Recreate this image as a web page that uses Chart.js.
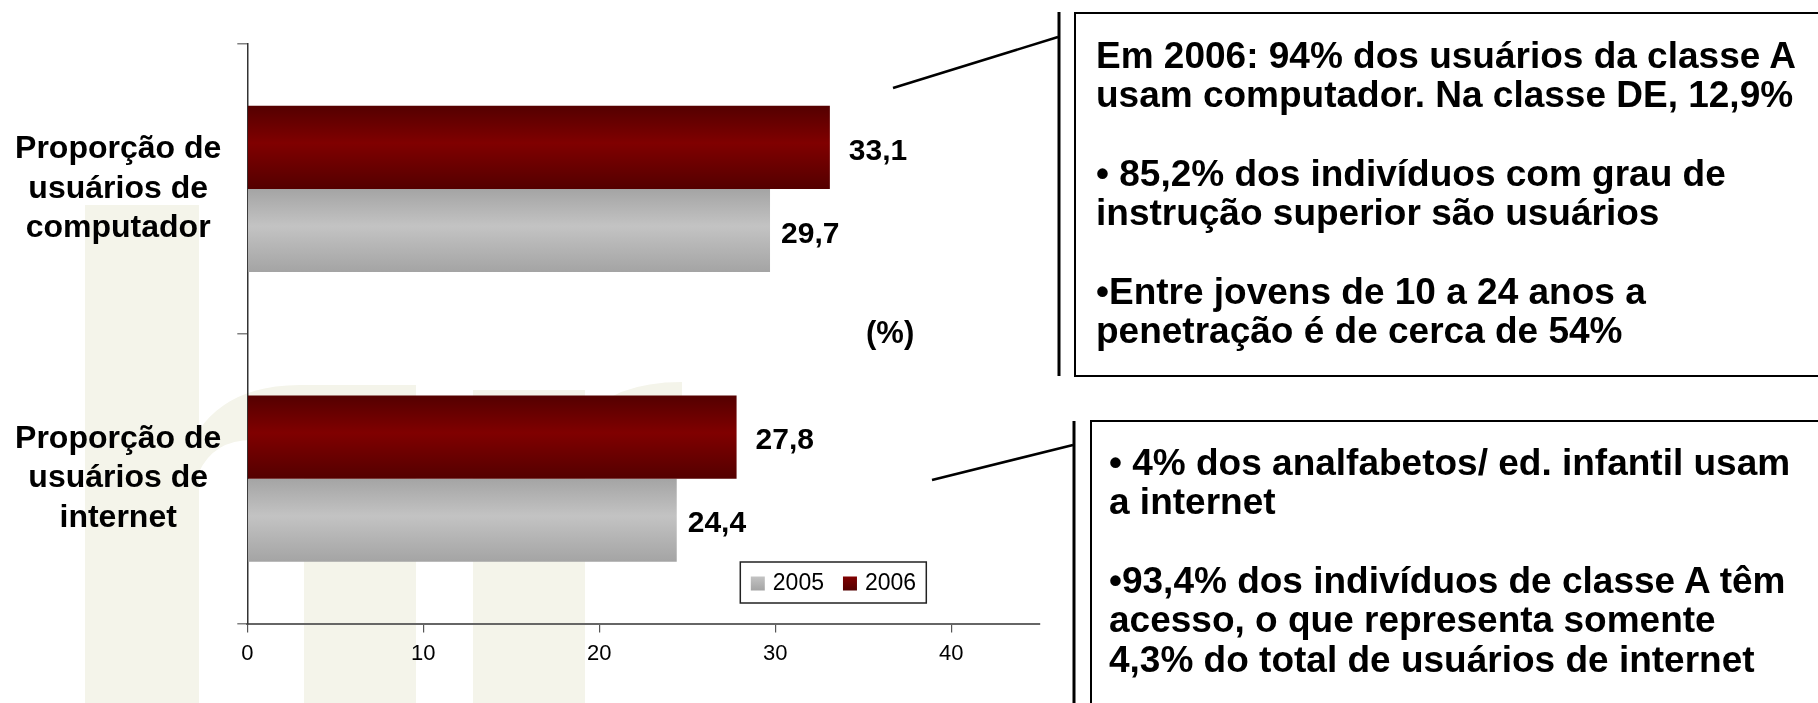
<!DOCTYPE html>
<html lang="pt-BR">
<head>
<meta charset="utf-8">
<title>Usuários de computador e internet</title>
<script src="https://cdn.jsdelivr.net/npm/chart.js@4.4.1/dist/chart.umd.min.js"></script>
<style>
  html, body { margin: 0; padding: 0; background: #fff; }
  body { width: 1818px; height: 703px; position: relative; overflow: hidden;
         font-family: "Liberation Sans", Arial, sans-serif; }
  #mark, #lines { position: absolute; left: 0; top: 0; }
  #wrap { position: absolute; left: 0; top: 0; width: 1060px; height: 703px; }
  #pct { position: absolute; left: 866px; top: 315px; font-weight: bold; font-size: 31px; line-height: 36px; }
  .box { position: absolute; border: 2.5px solid #000; background: #fff; box-sizing: border-box; }
  .box .txt { position: absolute; font-weight: bold; font-size: 37px; line-height: 39.4px; color: #000;
              white-space: nowrap; }
</style>
</head>
<body>

<!-- marca d'agua clara no fundo -->
<svg id="mark" width="1060" height="703">
  <g fill="#f4f4ea">
    <path d="M85,205 H199 V703 H85 Z"/>
    <path d="M199,430 Q230,385 300,385 H416 V703 H304 V475 Q292,440 252,440 Q214,440 199,472 Z"/>
    <path d="M473,390 H585 V703 H473 Z"/>
    <path d="M585,420 Q612,382 682,382 V440 Q622,440 585,472 Z"/>
  </g>
</svg>

<div id="wrap"><canvas id="chart"></canvas></div>
<div id="pct">(%)</div>

<svg id="lines" width="1818" height="703">
  <g stroke="#000" fill="none">
    <line x1="893" y1="88" x2="1058" y2="37" stroke-width="2.5"/>
    <line x1="1059" y1="12" x2="1059" y2="376" stroke-width="3"/>
    <line x1="932" y1="480" x2="1073" y2="445" stroke-width="2.5"/>
    <line x1="1074" y1="421" x2="1074" y2="703" stroke-width="3"/>
  </g>
</svg>

<div class="box" style="left:1074px; top:11.5px; width:800px; height:365.5px;">
  <div class="txt" style="left:20px; top:22px;">Em 2006: 94% dos usuários da classe A<br>usam computador. Na classe DE, 12,9%<br><br>• 85,2% dos indivíduos com grau de<br>instrução superior são usuários<br><br>•Entre jovens de 10 a 24 anos a<br>penetração é de cerca de 54%</div>
</div>
<div class="box" style="left:1089.5px; top:419.5px; width:800px; height:400px;">
  <div class="txt" style="left:17.5px; top:21px;">• 4% dos analfabetos/ ed. infantil usam<br>a internet<br><br>•93,4% dos indivíduos de classe A têm<br>acesso, o que representa somente<br>4,3% do total de usuários de internet</div>
</div>

<script>
// dados
const categories = [
  ['Proporção de', 'usuários de', 'computador'],
  ['Proporção de', 'usuários de', 'internet']
];
const years = ['2006', '2005'];
const values2006 = [33.1, 27.8];
const values2005 = [29.7, 24.4];
const xTicks = [0, 10, 20, 30, 40];

const FONT = '"Liberation Sans", Arial, sans-serif';

// degradê vertical em cada barra (escuro nas bordas, claro no meio)
const barShade = {
  id: 'barShade',
  beforeDatasetsDraw(chart) {
    const ctx = chart.ctx;
    chart.data.datasets.forEach((ds, i) => {
      chart.getDatasetMeta(i).data.forEach(bar => {
        const top = bar.y - bar.height / 2;
        const g = ctx.createLinearGradient(0, top, 0, top + bar.height);
        g.addColorStop(0, ds.shade[0]);
        g.addColorStop(0.45, ds.shade[1]);
        g.addColorStop(1, ds.shade[0]);
        bar.options = Object.assign({}, bar.options, { backgroundColor: g });
      });
    });
  }
};

// valores ao lado das barras, com virgula decimal
const valueLabels = {
  id: 'valueLabels',
  afterDatasetsDraw(chart) {
    const ctx = chart.ctx;
    ctx.save();
    ctx.font = 'bold 30px ' + FONT;
    ctx.fillStyle = '#000';
    ctx.textAlign = 'left';
    ctx.textBaseline = 'middle';
    chart.data.datasets.forEach((ds, i) => {
      chart.getDatasetMeta(i).data.forEach((bar, j) => {
        const txt = ds.data[j].toFixed(1).replace('.', ',');
        ctx.fillText(txt, bar.x + ds.labelGap, bar.y + 4);
      });
    });
    ctx.restore();
  }
};

// legenda em caixa dentro da area do grafico (2005 antes de 2006)
const boxLegend = {
  id: 'boxLegend',
  afterDraw(chart) {
    const ctx = chart.ctx;
    const { right, bottom } = chart.chartArea;
    const x0 = right - 299, y0 = bottom - 61.5, w = 186, h = 41;
    ctx.save();
    ctx.fillStyle = '#fff';
    ctx.fillRect(x0, y0, w, h);
    ctx.strokeStyle = '#222';
    ctx.lineWidth = 1.5;
    ctx.strokeRect(x0, y0, w, h);
    ctx.font = '23px ' + FONT;
    ctx.textBaseline = 'middle';
    ctx.textAlign = 'left';
    let x = x0 + 10.5;
    [1, 0].forEach(i => {
      const ds = chart.data.datasets[i];
      const sy = y0 + 14.5;
      const g = ctx.createLinearGradient(0, sy, 0, sy + 14);
      g.addColorStop(0, ds.shade[1]);
      g.addColorStop(1, ds.shade[0]);
      ctx.fillStyle = g;
      ctx.fillRect(x, sy, 14, 14);
      ctx.fillStyle = '#000';
      ctx.fillText(ds.label, x + 22, y0 + 21.5);
      x += 22 + ctx.measureText(ds.label).width + 19;
    });
    ctx.restore();
  }
};

new Chart(document.getElementById('chart'), {
  type: 'bar',
  data: {
    labels: categories,
    datasets: [
      { label: years[0], data: values2006, backgroundColor: '#800000',
        shade: ['#540000', '#800000'], labelGap: 19 },
      { label: years[1], data: values2005, backgroundColor: '#c2c2c2',
        shade: ['#a4a4a4', '#c3c3c3'], labelGap: 11 }
    ]
  },
  options: {
    indexAxis: 'y',
    responsive: true,
    maintainAspectRatio: false,
    animation: false,
    layout: { padding: { top: 44, right: 20.7, bottom: 0, left: 0 } },
    datasets: { bar: { categoryPercentage: 0.574, barPercentage: 1 } },
    plugins: { legend: { display: false }, tooltip: { enabled: false } },
    scales: {
      x: {
        min: 0,
        max: 45,
        afterBuildTicks: s => { s.ticks = xTicks.map(v => ({ value: v })); },
        afterFit: s => { s.height = 79.5; s.paddingLeft = 0; s.paddingRight = 0; },
        grid: { drawOnChartArea: false, tickLength: 9, color: '#555', lineWidth: 1.2 },
        border: { color: '#666', width: 2 },
        ticks: { color: '#000', padding: 8, font: { family: FONT, size: 22 } }
      },
      y: {
        // rotulos de tres linhas nao devem empurrar a area do grafico
        afterFit: s => { s.width = 247.3; s.paddingTop = 0; s.paddingBottom = 0; },
        grid: { drawOnChartArea: false, tickLength: 10, color: '#808080', lineWidth: 1.5 },
        border: { color: '#333', width: 1.5 },
        ticks: {
          color: '#000', crossAlign: 'center', padding: 16,
          font: { family: FONT, size: 32, weight: 'bold', lineHeight: 1.23 }
        }
      }
    }
  },
  plugins: [barShade, valueLabels, boxLegend]
});
</script>
</body>
</html>
